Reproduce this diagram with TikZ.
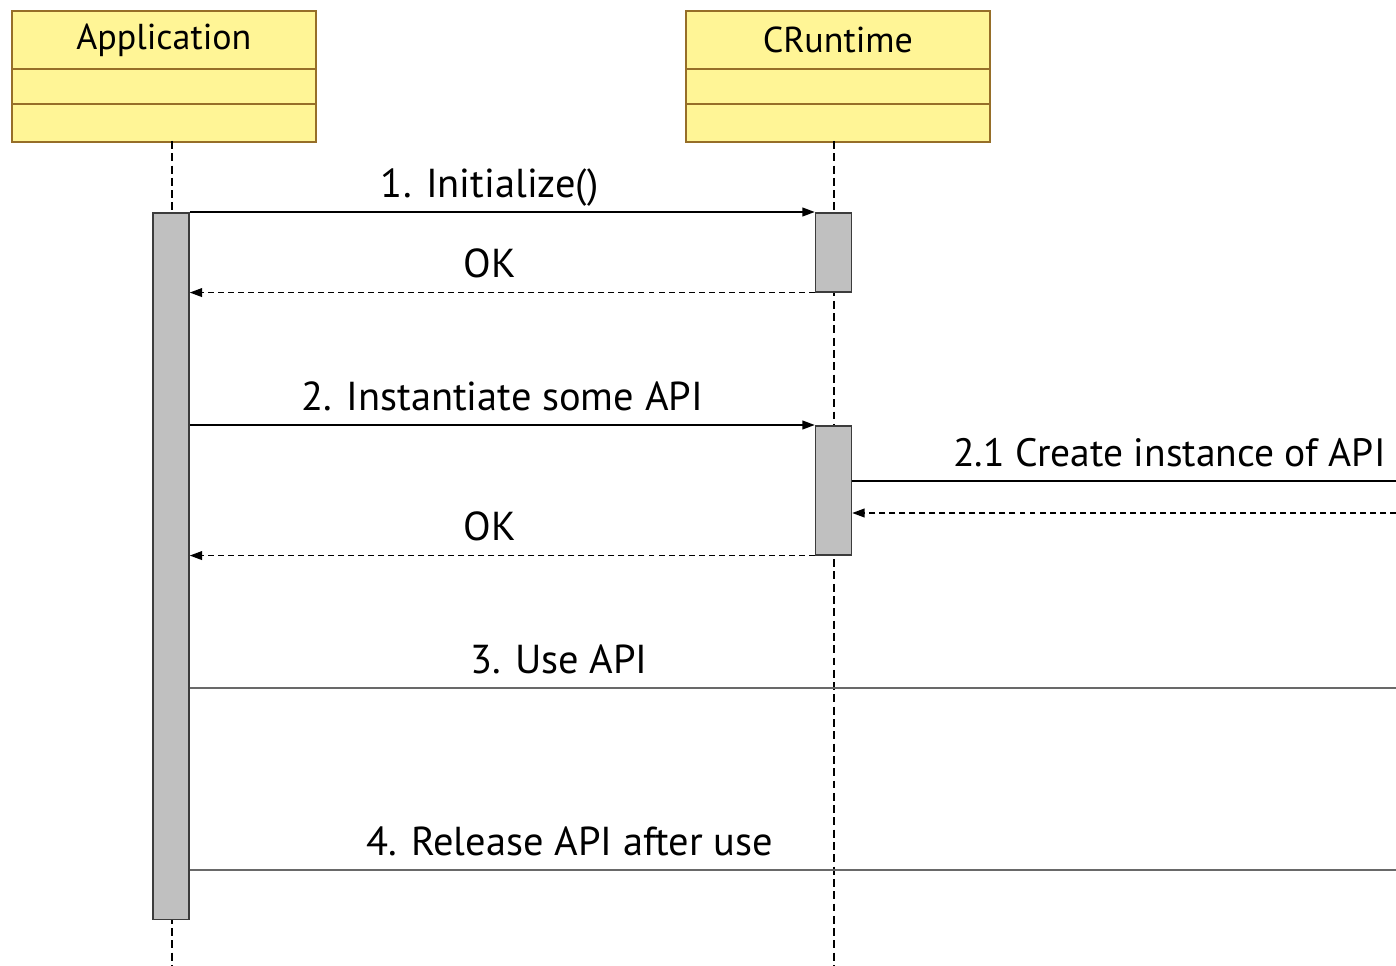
\documentclass[tikz,border=0pt]{standalone}
\usepackage{fontspec}
\setmainfont{PT Sans}
\usetikzlibrary{arrows.meta}
\definecolor{classfill}{RGB}{255,245,150}
\definecolor{classedge}{RGB}{150,110,40}
\definecolor{barfill}{RGB}{192,192,192}
\definecolor{bardraw}{RGB}{60,60,60}
\definecolor{msggray}{RGB}{105,105,105}

\begin{document}
\begin{tikzpicture}[x=0.02cm, y=-0.02cm,
    classbox/.style={draw=classedge, fill=classfill, line width=1pt, anchor=north west,
      minimum width=6.08cm, minimum height=2.62cm, inner sep=0pt},
    classtitle/.style={font=\fontsize{20.5}{24}\selectfont},
    lifeline/.style={line width=0.9pt, dash pattern=on 4.5pt off 2.5pt},
    bar/.style={draw=bardraw, fill=barfill, line width=0.9pt, anchor=north,
      minimum width=0.72cm, inner sep=0pt},
    call/.style={line width=0.9pt, -{Triangle[length=7pt, width=5pt]}},
    reply/.style={line width=0.8pt, dash pattern=on 3.4pt off 2.3pt, -{Triangle[length=7pt, width=5pt]}},
    usage/.style={msggray, line width=1.4pt},
    msg/.style={font=\fontsize{23}{27}\selectfont, text=black, anchor=base, yshift=0.3cm, inner sep=0pt}]
    \clip (0,0) rectangle (1396,966);
    \fill[white] (0,0) rectangle (1396,966);

    % class boxes
    \node[classbox] (app) at (11,10) {};
    \node[classbox] (crt) at (685,10) {};
    \node[classtitle] at ([yshift=-0.6cm]app.north) {Application};
    \node[classtitle] at ([yshift=-0.6cm]crt.north) {CRuntime};
    \foreach \b in {app,crt}
        \foreach \d in {1.18,1.88}
            \draw[classedge, line width=1pt] ([yshift=-\d cm]\b.north west) -- ([yshift=-\d cm]\b.north east);

    % lifelines
    \coordinate (applife) at (172,141);
    \coordinate (crtlife) at (834,141);
    \draw[lifeline] (applife) -- (172,966);
    \draw[lifeline] (crtlife) -- (834,966);

    % activations
    \node[bar, minimum height=14.14cm] (appbar) at (171,212) {};
    \node[bar, minimum height=1.58cm] (crtbar1) at (833.5,212) {};
    \node[bar, minimum height=2.58cm] (crtbar2) at (833.5,425) {};

    % free ends at the right border
    \coordinate (create) at (1396,481);
    \coordinate (created) at (1396,513);
    \coordinate (useapi) at (1396,688);
    \coordinate (release) at (1396,870);

    % messages
    \draw[call] (appbar.east |- crtbar1.north) -- node[msg, pos=.48] {1. Initialize()} (crtbar1.north west);
    \draw[reply] (crtbar1.south west) -- node[msg, pos=.52] {OK} (appbar.east |- crtbar1.south);
    \draw[call] (appbar.east |- crtbar2.north) -- node[msg, pos=.5] {2. Instantiate some API} (crtbar2.north west);
    \draw[line width=0.9pt] (crtbar2.east |- create) -- node[msg, pos=.184, anchor=base west,
        font=\fontsize{22.5}{27}\selectfont] {2.1 Create instance of API} (create);
    \draw[reply] (created) -- (crtbar2.east |- created);
    \draw[reply] (crtbar2.south west) -- node[msg, pos=.52] {OK} (appbar.east |- crtbar2.south);
    \draw[usage] (appbar.east |- useapi) -- node[msg, pos=.306] {3. Use API} (useapi);
    \draw[usage] (appbar.east |- release) -- node[msg, pos=.315] {4. Release API after use} (release);
\end{tikzpicture}
\end{document}
